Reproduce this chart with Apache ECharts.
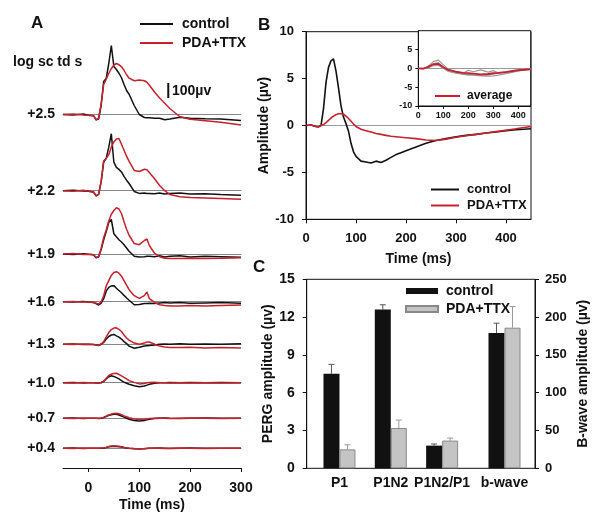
<!DOCTYPE html>
<html lang="en">
<head>
<meta charset="utf-8" />
<title>PERG / flash ERG</title>
<script src="https://cdn.jsdelivr.net/npm/echarts@6/dist/echarts.min.js"></script>
<style>
  body { margin: 0; background: #fff; }
  #chart { width: 600px; height: 524px; }
</style>
</head>
<body>
<div id="chart"></div>
<script>
// ---------- Panel A : flash responses, µV ----------
const tA = [-50,-30,-10,0,10,15,20,25,30,35,40,45,50,55,60,65,70,75,80,90,100,110,115,120,130,140,150,160,180,200,230,260,300];
const intensities = ['+2.5','+2.2','+1.9','+1.6','+1.3','+1.0','+0.7','+0.4'];
const ctrlA = [
  [0,-3,3,-5,-8,-35,-30,60,220,240,340,460,320,300,275,245,200,160,135,60,0,-20,-22,-22,-25,-25,-35,-30,-18,-25,-28,-30,-40],
  [0,3,-2,-3,-8,-35,-25,60,190,215,290,380,190,155,142,125,95,70,48,-5,-18,-15,-18,-18,-20,-15,-22,-18,-15,-22,-20,-25,-30],
  [0,-3,2,-2,-5,-25,-20,30,95,150,210,230,135,115,95,80,62,40,18,-15,-20,-18,-15,-15,-18,-12,-20,-15,-12,-20,-15,-18,-22],
  [0,-2,2,-2,-5,-12,-22,-10,20,70,95,105,107,90,75,60,42,25,10,-20,-18,-12,-12,-10,-12,-8,-5,-8,-6,-10,-8,-6,-10],
  [0,2,-2,0,-2,-5,-8,0,12,35,52,62,66,56,48,35,18,5,-12,-26,-20,-12,-10,-8,-5,0,2,0,3,0,2,0,3],
  [0,2,-2,0,0,-2,-2,0,8,25,40,46,42,34,25,14,4,-4,-10,-20,-27,-22,-16,-10,-4,0,0,2,0,2,0,2,0],
  [0,2,-2,0,0,0,-2,0,5,12,20,24,27,27,22,15,8,0,-6,-14,-18,-14,-10,-6,-2,0,2,0,-2,0,2,0,0],
  [0,2,-2,0,0,0,0,0,2,5,10,12,13,12,10,8,5,2,0,-3,-5,-3,-2,0,0,2,0,-2,0,2,0,0,0]
];
const pdaA = [
  [0,3,-3,-5,-8,-35,-25,70,200,235,275,305,330,340,332,318,295,265,242,225,230,225,215,195,150,110,75,40,-15,-32,-42,-52,-70],
  [0,-3,3,-3,-8,-35,-25,60,200,215,240,290,325,345,348,310,270,230,195,135,128,143,140,120,80,35,0,-25,-40,-45,-48,-52,-57],
  [0,3,-3,-2,-5,-22,-18,35,110,160,220,265,290,308,300,270,215,165,125,70,62,90,100,55,5,-18,-28,-30,-30,-28,-30,-28,-25],
  [0,2,-2,-2,-5,-10,-15,0,40,105,140,175,195,200,190,170,140,110,80,40,22,40,65,20,-5,-20,-25,-28,-28,-25,-28,-25,-22],
  [0,-2,2,0,-2,-5,-6,2,18,50,78,98,108,110,100,85,62,42,28,8,0,8,15,15,0,-12,-18,-22,-22,-20,-24,-22,-24],
  [0,-2,2,0,0,0,-2,2,10,30,48,56,62,63,55,45,36,25,14,2,-8,-5,0,2,3,0,0,-2,0,-2,0,-2,0],
  [0,-2,2,0,0,0,0,2,6,15,22,28,32,33,30,24,16,10,4,-4,-8,-6,-4,-2,0,2,0,-2,0,2,0,-2,0],
  [0,-2,2,0,0,0,0,2,3,6,12,15,16,15,13,10,6,3,0,-2,-3,-2,0,0,2,0,-2,0,2,0,-2,0,0]
];
const scaleBar = [[157,110],[157,210]]; // 100 µV

// ---------- Panel B : PERG, µV ----------
const tB = [0,10,20,25,30,35,40,45,50,55,60,65,70,75,80,85,90,95,100,110,120,130,140,150,160,170,180,190,200,220,240,260,280,300,320,340,360,380,400,420,450];
const ctrlB = [0,0.05,-0.1,-0.15,0,1.8,4.6,6.2,6.9,7.1,5.8,4.0,2.1,0.9,0.2,-0.6,-1.9,-2.8,-3.3,-3.8,-3.9,-4.0,-3.8,-3.95,-3.7,-3.4,-3.1,-2.9,-2.7,-2.3,-1.9,-1.6,-1.4,-1.2,-1.05,-0.95,-0.8,-0.7,-0.55,-0.45,-0.35];
const pdaB = [0,0.05,-0.1,-0.15,0,0.1,0.3,0.55,0.8,1.0,1.15,1.25,1.25,1.2,1.0,0.75,0.45,0.15,-0.1,-0.4,-0.55,-0.7,-0.85,-0.95,-1.05,-1.15,-1.2,-1.25,-1.3,-1.4,-1.55,-1.6,-1.45,-1.25,-1.1,-0.95,-0.8,-0.65,-0.5,-0.35,-0.1];

// inset: single eyes + average
const tI = [0,20,40,60,80,100,120,150,180,200,220,250,280,300,320,350,380,400,450];
const eye1 = [0,-0.1,0.6,1.8,2.2,1.0,-0.2,-0.9,-1.4,-1.6,-1.8,-2.0,-2.1,-2.0,-1.8,-1.4,-1.0,-0.7,-0.3];
const eye2 = [0,0,0.3,1.2,1.5,0.4,-0.6,-1.1,-1.3,-0.5,-0.9,-0.4,-1.0,-0.6,-1.2,-0.9,-0.6,-0.4,-0.1];
const eye3 = [0,-0.1,0.2,0.7,0.8,0,-0.8,-1.3,-1.6,-1.8,-1.7,-1.9,-1.8,-1.5,-1.3,-1.0,-0.8,-0.6,-0.3];
const avgI = [0,-0.1,0.4,1.1,1.2,0.3,-0.4,-0.9,-1.2,-1.3,-1.4,-1.6,-1.5,-1.3,-1.2,-1.0,-0.7,-0.5,-0.2];

// ---------- Panel C : bar summary ----------
const catsC = ['P1','P1N2','P1N2/P1'];
const ctrlC = [7.5, 12.6, 1.8];
const ctrlSem = [0.75, 0.38, 0.13];
const pdaC = [1.5, 3.2, 2.2];
const pdaSem = [0.37, 0.63, 0.2];
const bwaveCat = ['b-wave'];
const bwaveCtrl = [179];
const bwaveCtrlSem = [13];
const bwavePda = [186];
const bwavePdaSem = [28];

// ---------- chart ----------
const FONT = "'Liberation Sans', Arial, sans-serif";
const RED = '#c8202c', BLACK = '#111', GREY = '#c4c4c4';
const txt = (size, extra) => Object.assign({ fontFamily: FONT, fontWeight: 'bold', fontSize: size, color: '#111' }, extra || {});
const pair = (xs, ys) => xs.map((x, k) => [x, ys[k]]);

const grid = [], xAxis = [], yAxis = [], series = [];

function addGrid(g) {
  grid.push(Object.assign({ outerBoundsMode: 'none', containLabel: false }, g));
  return grid.length - 1;
}

// panel A: one stacked grid per intensity
const aLeft = 63, aWidth = 178, aScale = 0.15;   // px per µV
const aBase = [114.5, 190.7, 254, 301.7, 344.3, 382.7, 418.3, 448.3];
const aMin = -150, aMax = 550;
intensities.forEach((lab, i) => {
  const gi = addGrid({ left: aLeft, width: aWidth, top: aBase[i] - aMax * aScale, height: (aMax - aMin) * aScale });
  xAxis.push({ gridIndex: gi, type: 'value', min: -50, max: 300,
    axisLine: { onZero: true, lineStyle: { color: '#888', width: 1 } },
    axisTick: { show: false }, axisLabel: { show: false }, splitLine: { show: false } });
  yAxis.push({ gridIndex: gi, type: 'value', min: aMin, max: aMax, interval: 50,
    axisLine: { show: false }, axisTick: { show: false }, splitLine: { show: false },
    axisLabel: Object.assign(txt(14), { margin: 8, formatter: v => (v === 0 ? lab : '') }) });
  series.push({ name: 'control', type: 'line', xAxisIndex: xAxis.length - 1, yAxisIndex: yAxis.length - 1,
    symbol: 'none', data: pair(tA, ctrlA[i]), lineStyle: { color: BLACK, width: 1.5 }, itemStyle: { color: BLACK } });
  series.push({ name: 'PDA+TTX', type: 'line', xAxisIndex: xAxis.length - 1, yAxisIndex: yAxis.length - 1,
    symbol: 'none', data: pair(tA, pdaA[i]), lineStyle: { color: RED, width: 1.5 }, itemStyle: { color: RED } });
  if (i === 0) {
    series.push({ name: 'scale', type: 'line', xAxisIndex: xAxis.length - 1, yAxisIndex: yAxis.length - 1,
      symbol: 'none', silent: true, data: scaleBar, lineStyle: { color: BLACK, width: 2 } });
  }
});

// panel A time axis
{
  const gi = addGrid({ left: aLeft, width: aWidth, top: 448, height: 20 });
  xAxis.push({ gridIndex: gi, type: 'value', min: -50, max: 300,
    axisLine: { onZero: false, lineStyle: { color: BLACK } },
    axisTick: { customValues: [0, 100, 200, 300], length: 4, lineStyle: { color: BLACK } },
    axisLabel: Object.assign(txt(14), { customValues: [0, 100, 200, 300], margin: 13 }),
    splitLine: { show: false },
    name: 'Time (ms)', nameLocation: 'middle', nameGap: 30, nameTextStyle: txt(14) });
  yAxis.push({ gridIndex: gi, type: 'value', min: 0, max: 1, show: false });
}

// panel B main
const zeroLine = { show: true, lineStyle: { color: ['transparent', 'transparent', '#999', 'transparent', 'transparent'], width: 1 } };
{
  const gi = addGrid({ left: 306, top: 31.7, width: 225, height: 187.6, show: true, borderColor: BLACK, borderWidth: 1 });
  xAxis.push({ gridIndex: gi, type: 'value', min: 0, max: 450, interval: 100,
    axisLine: { onZero: false, lineStyle: { color: BLACK } },
    axisTick: { length: 4, lineStyle: { color: BLACK } },
    axisLabel: Object.assign(txt(13), { margin: 13, showMaxLabel: false }),
    splitLine: { show: false },
    name: 'Time (ms)', nameLocation: 'middle', nameGap: 33, nameTextStyle: txt(14) });
  yAxis.push({ gridIndex: gi, type: 'value', min: -10, max: 10, interval: 5,
    axisLine: { lineStyle: { color: BLACK } },
    axisTick: { length: 4, lineStyle: { color: BLACK } },
    axisLabel: Object.assign(txt(13), { margin: 12 }),
    splitLine: zeroLine,
    name: 'Amplitude (µv)', nameLocation: 'middle', nameRotate: 90, nameGap: 29, nameTextStyle: txt(14) });
  const xi = xAxis.length - 1, yi = yAxis.length - 1;
  series.push({ name: 'control|B', type: 'line', xAxisIndex: xi, yAxisIndex: yi, symbol: 'none',
    data: pair(tB, ctrlB), lineStyle: { color: BLACK, width: 1.6 }, itemStyle: { color: BLACK } });
  series.push({ name: 'PDA+TTX|B', type: 'line', xAxisIndex: xi, yAxisIndex: yi, symbol: 'none',
    data: pair(tB, pdaB), lineStyle: { color: RED, width: 1.6 }, itemStyle: { color: RED } });
}

// panel B inset
{
  const gi = addGrid({ left: 418.3, top: 30.7, width: 112.4, height: 75.3, show: true, backgroundColor: '#fff', borderColor: BLACK, borderWidth: 1 });
  xAxis.push({ gridIndex: gi, type: 'value', min: 0, max: 450, interval: 100,
    axisLine: { onZero: false, lineStyle: { color: BLACK } },
    axisTick: { length: 3, lineStyle: { color: BLACK } },
    axisLabel: Object.assign(txt(9), { margin: 5, showMaxLabel: false }),
    splitLine: { show: false } });
  yAxis.push({ gridIndex: gi, type: 'value', min: -10, max: 10, interval: 5,
    axisLine: { lineStyle: { color: BLACK } },
    axisTick: { length: 3, lineStyle: { color: BLACK } },
    axisLabel: Object.assign(txt(9), { margin: 6, showMaxLabel: false }),
    splitLine: zeroLine });
  const xi = xAxis.length - 1, yi = yAxis.length - 1;
  [eye1, eye2, eye3].forEach((ys, k) => {
    series.push({ name: 'eye' + k, type: 'line', xAxisIndex: xi, yAxisIndex: yi, symbol: 'none', silent: true,
      data: pair(tI, ys), lineStyle: { color: '#9a9a9a', width: 1.2 } });
  });
  series.push({ name: 'average', type: 'line', xAxisIndex: xi, yAxisIndex: yi, symbol: 'none',
    data: pair(tI, avgI), lineStyle: { color: RED, width: 1.8 }, itemStyle: { color: RED } });
}

// panel C frame with both value axes
const cTop = 279.3, cHeight = 189;
{
  const gi = addGrid({ left: 306.7, top: cTop, width: 228.3, height: cHeight, show: true, borderColor: BLACK, borderWidth: 1 });
  xAxis.push({ gridIndex: gi, type: 'value', min: 0, max: 1, show: false });
  yAxis.push({ gridIndex: gi, type: 'value', min: 0, max: 15, interval: 3, position: 'left',
    axisLine: { show: true, lineStyle: { color: BLACK } },
    axisTick: { show: true, length: 4, lineStyle: { color: BLACK } },
    axisLabel: Object.assign(txt(14), { margin: 12 }),
    splitLine: { show: false },
    name: 'PERG amplitude (µv)', nameLocation: 'middle', nameRotate: 90, nameGap: 30, nameTextStyle: txt(14) });
  yAxis.push({ gridIndex: gi, type: 'value', min: 0, max: 250, interval: 50, position: 'right',
    axisLine: { show: true, lineStyle: { color: BLACK } },
    axisTick: { show: true, length: 4, lineStyle: { color: BLACK } },
    axisLabel: Object.assign(txt(13), { margin: 10 }),
    splitLine: { show: false },
    name: 'B-wave amplitude (µv)', nameLocation: 'middle', nameRotate: 90, nameGap: 41, nameTextStyle: txt(14) });
}

function errBars(xi, yi, vals, sems, off, color) {
  return {
    type: 'custom', xAxisIndex: xi, yAxisIndex: yi, silent: true, z: 1,
    data: vals.map((v, k) => [k, v, v + sems[k]]),
    renderItem: (params, api) => {
      const p0 = api.coord([api.value(0), api.value(1)]);
      const p1 = api.coord([api.value(0), api.value(2)]);
      const x = p0[0] + off;
      return { type: 'group', children: [
        { type: 'line', shape: { x1: x, y1: p0[1], x2: x, y2: p1[1] }, style: { stroke: color, lineWidth: 1 } },
        { type: 'line', shape: { x1: x - 3, y1: p1[1], x2: x + 3, y2: p1[1] }, style: { stroke: color, lineWidth: 1 } }
      ] };
    }
  };
}

function barGroup(left, width, cats, yMax, cVals, cSem, pVals, pSem) {
  const gi = addGrid({ left: left, width: width, top: cTop, height: cHeight });
  xAxis.push({ gridIndex: gi, type: 'category', data: cats,
    axisLine: { show: false }, axisTick: { show: false },
    axisLabel: Object.assign(txt(14), { margin: 8, interval: 0 }) });
  yAxis.push({ gridIndex: gi, type: 'value', min: 0, max: yMax, show: false });
  const xi = xAxis.length - 1, yi = yAxis.length - 1;
  series.push({ name: 'control|C', type: 'bar', xAxisIndex: xi, yAxisIndex: yi, data: cVals,
    barWidth: 16, barGap: '0%', itemStyle: { color: BLACK } });
  series.push({ name: 'PDA+TTX|C', type: 'bar', xAxisIndex: xi, yAxisIndex: yi, data: pVals,
    barWidth: 16, barGap: '0%', itemStyle: { color: GREY, borderColor: '#888', borderWidth: 1 } });
  series.push(errBars(xi, yi, cVals, cSem, -8, '#555'));
  series.push(errBars(xi, yi, pVals, pSem, 8, '#999'));
}
barGroup(313.8, 154, catsC, 15, ctrlC, ctrlSem, pdaC, pdaSem);
barGroup(478.8, 51.4, bwaveCat, 250, bwaveCtrl, bwaveCtrlSem, bwavePda, bwavePdaSem);

const strip = n => n.split('|')[0];
const option = {
  animation: false,
  backgroundColor: '#fff',
  title: [
    { text: 'A', left: 31, top: 15, padding: 0, textStyle: txt(17) },
    { text: 'B', left: 258, top: 17, padding: 0, textStyle: txt(17) },
    { text: 'C', left: 253, top: 259, padding: 0, textStyle: txt(17) },
    { text: 'log sc td s', left: 13, top: 55, padding: 0, textStyle: txt(14) },
    { text: '100µv', left: 172, top: 84, padding: 0, textStyle: txt(14) }
  ],
  legend: [
    { data: ['control', 'PDA+TTX'], left: 140, top: 17, orient: 'vertical', padding: 0,
      icon: 'rect', itemWidth: 33, itemHeight: 2, itemGap: 5, selectedMode: false,
      textStyle: txt(14, { padding: [0, 0, 0, 4] }) },
    { data: ['control|B', 'PDA+TTX|B'], left: 431, top: 183, orient: 'vertical', padding: 0,
      icon: 'rect', itemWidth: 28, itemHeight: 2, itemGap: 3, selectedMode: false, formatter: strip,
      textStyle: txt(13, { padding: [0, 0, 0, 3] }) },
    { data: ['average'], left: 435, top: 90, padding: 0, icon: 'rect', itemWidth: 25, itemHeight: 2,
      selectedMode: false, textStyle: txt(12, { padding: [0, 0, 0, 2] }) },
    { data: ['control|C', 'PDA+TTX|C'], left: 405, top: 284, orient: 'vertical', padding: 0,
      icon: 'rect', itemWidth: 32, itemHeight: 6, itemGap: 4, selectedMode: false, formatter: strip,
      textStyle: txt(14, { padding: [0, 0, 0, 3] }) }
  ],
  grid: grid,
  xAxis: xAxis,
  yAxis: yAxis,
  series: series
};

const chart = echarts.init(document.getElementById('chart'));
chart.setOption(option);
</script>
</body>
</html>
